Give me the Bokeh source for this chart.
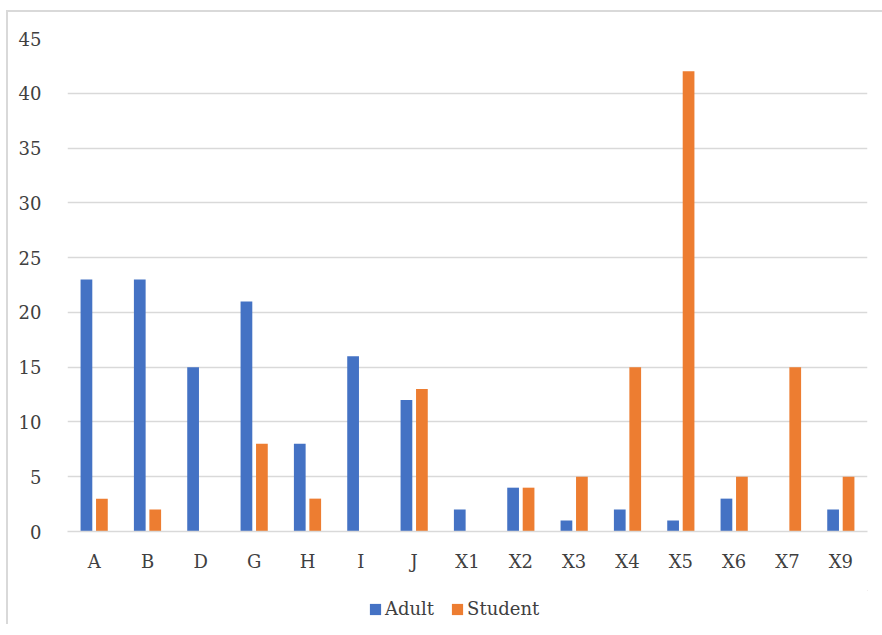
from bokeh.plotting import figure
from bokeh.layouts import column
from bokeh.models import ColumnDataSource, Range1d, FactorRange, Legend, LegendItem, FixedTicker
from bokeh.transform import dodge
from bokeh.embed import file_html
from bokeh.resources import INLINE

categories = ["A", "B", "D", "G", "H", "I", "J", "X1", "X2", "X3", "X4", "X5", "X6", "X7", "X9"]
adult = [23, 23, 15, 21, 8, 16, 12, 2, 4, 1, 2, 1, 3, 0, 2]
student = [3, 2, 0, 8, 3, 0, 13, 0, 4, 5, 15, 42, 5, 15, 5]
y_ticks = [0, 5, 10, 15, 20, 25, 30, 35, 40, 45]
series_names = ["Adult", "Student"]
series_colors = ["#4472C4", "#ED7D31"]

FONT = "DejaVu Serif"
TXT = "#404040"
FS = "18px"

src = ColumnDataSource(dict(cat=categories, adult=adult, student=student))

p = figure(x_range=FactorRange(*categories, range_padding=0), y_range=Range1d(0, 45),
           width=874, height=578, output_backend="svg", toolbar_location=None,
           min_border_left=59, min_border_right=15, min_border_top=26, min_border_bottom=59)

p.vbar(x=dodge("cat", -0.145, range=p.x_range), top="adult", width=0.22, source=src,
       fill_color=series_colors[0], line_color=None)
p.vbar(x=dodge("cat", 0.145, range=p.x_range), top="student", width=0.22, source=src,
       fill_color=series_colors[1], line_color=None)

p.outline_line_color = None
p.xgrid.grid_line_color = None
p.ygrid.grid_line_color = "#d9d9d9"
p.ygrid.grid_line_width = 1.5
p.yaxis.ticker = FixedTicker(ticks=y_ticks)

for ax in (p.xaxis, p.yaxis):
    ax.axis_line_color = None
    ax.major_tick_line_color = None
    ax.minor_tick_line_color = None
    ax.major_label_text_font = FONT
    ax.major_label_text_font_size = FS
    ax.major_label_text_color = TXT
p.xaxis.axis_line_color = "#d9d9d9"
p.xaxis.axis_line_width = 1.5
p.yaxis.major_label_standoff = 20
p.xaxis.major_label_standoff = 13

# legend strip (legend-only figure; swatch glyphs sit outside its visible range)
q = figure(x_range=Range1d(0, 1), y_range=Range1d(0, 1), width=874, height=34,
           output_backend="svg", toolbar_location=None,
           x_axis_location=None, y_axis_location=None,
           min_border_left=0, min_border_right=0, min_border_top=0, min_border_bottom=0)
q.outline_line_color = None
q.xgrid.visible = False
q.ygrid.visible = False
items = []
for name, col in zip(series_names, series_colors):
    r = q.vbar(x=[5], top=[5], bottom=[4], width=0.1, fill_color=col, line_color=None)
    items.append(LegendItem(label=name, renderers=[r]))
legend = Legend(items=items, orientation="horizontal", location=(301, 5),
                glyph_width=14, glyph_height=14, spacing=16,
                label_text_font=FONT, label_text_font_size=FS, label_text_color=TXT,
                border_line_color=None, background_fill_alpha=0, margin=0, padding=4,
                label_standoff=3)
q.add_layout(legend)

layout = column(p, q, spacing=0)
layout.styles = {"margin-left": "6px", "margin-top": "10px",
                 "border-left": "2px solid #d9d9d9", "border-top": "2px solid #d9d9d9"}

open("out.html", "w").write(file_html(layout, INLINE))
